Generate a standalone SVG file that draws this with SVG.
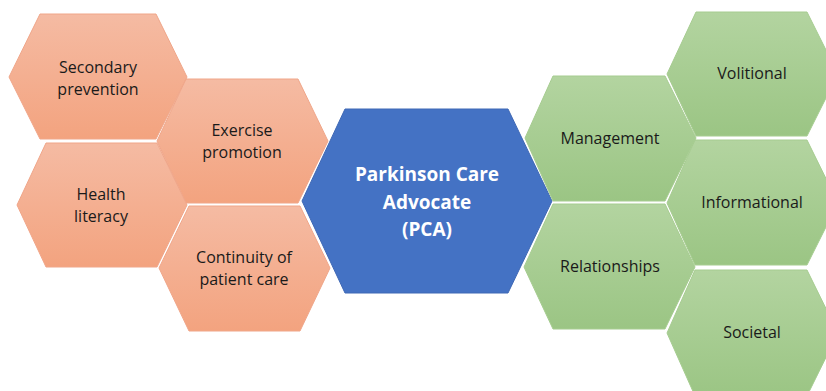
<svg xmlns="http://www.w3.org/2000/svg" width="826" height="391" viewBox="0 0 826 391">
<defs>
<linearGradient id="gO" x1="0" y1="0" x2="0" y2="1">
<stop offset="0" stop-color="#F5BBA3"/>
<stop offset="1" stop-color="#F3A37F"/>
</linearGradient>
<linearGradient id="gG" x1="0" y1="0" x2="0" y2="1">
<stop offset="0" stop-color="#B3D4A0"/>
<stop offset="1" stop-color="#9BC584"/>
</linearGradient>
<style>
.o{fill:url(#gO);stroke:#F0A689;stroke-width:1}
.g{fill:url(#gG);stroke:#A6CC90;stroke-width:1}
.b{fill:#4472C4;stroke:#3F68B5;stroke-width:1}
.t{font-family:"Open Sans","Liberation Sans",sans-serif;font-size:16px;fill:#1A1A1A;text-anchor:middle}
.w{font-family:"Open Sans","Liberation Sans",sans-serif;font-size:19px;font-weight:bold;fill:#FFFFFF;text-anchor:middle}
</style>
</defs>
<rect width="826" height="391" fill="#FFFFFF"/>
<g id="secondary-prevention">
<polygon class="o" points="40,14 156,14 187,77 156,139 40,139 9,77"/>
<text class="t" x="98" y="73">Secondary</text>
<text class="t" x="98" y="95">prevention</text>
</g>
<g id="exercise-promotion">
<polygon class="o" points="186,79 298,79 328,141 298,203 186,203 157,141"/>
<text class="t" x="242" y="136">Exercise</text>
<text class="t" x="242" y="158">promotion</text>
</g>
<g id="health-literacy">
<polygon class="o" points="46,143 157,143 187,205 157,267 46,267 17,205"/>
<text class="t" x="101" y="200">Health</text>
<text class="t" x="101" y="222">literacy</text>
</g>
<g id="continuity">
<polygon class="o" points="189,206 300,206 330,268 300,331 189,331 159,268"/>
<text class="t" x="244" y="263">Continuity of</text>
<text class="t" x="244" y="285">patient care</text>
</g>
<g id="pca">
<polygon class="b" points="345,109 508,109 552,201 508,293 345,293 302,201"/>
<text class="w" x="427" y="181">Parkinson Care</text>
<text class="w" x="427" y="209">Advocate</text>
<text class="w" x="427" y="236">(PCA)</text>
</g>
<g id="management">
<polygon class="g" points="553,76 665,76 696,138 665,201 553,201 525,138"/>
<text class="t" x="610" y="144">Management</text>
</g>
<g id="relationships">
<polygon class="g" points="553,204 665,204 695,267 665,329 553,329 524,267"/>
<text class="t" x="610" y="272">Relationships</text>
</g>
<g id="volitional">
<polygon class="g" points="696,12 807,12 838,74 807,136 696,136 667,74"/>
<text class="t" x="752" y="79">Volitional</text>
</g>
<g id="informational">
<polygon class="g" points="695,140 807,140 838,203 807,265 695,265 667,203"/>
<text class="t" x="752" y="208">Informational</text>
</g>
<g id="societal">
<polygon class="g" points="695,270 807,270 838,333 807,396 695,396 667,333"/>
<text class="t" x="752" y="338">Societal</text>
</g>
<g id="connectors"></g>
</svg>
